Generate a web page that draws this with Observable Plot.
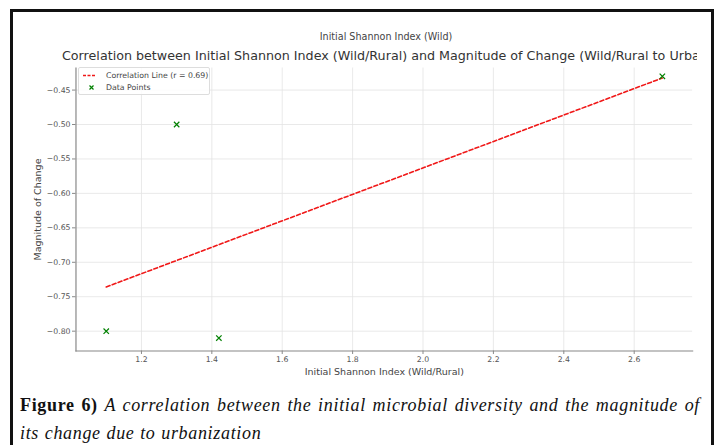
<!DOCTYPE html>
<html>
<head>
<meta charset="utf-8">
<script src="https://cdn.jsdelivr.net/npm/d3@7"></script>
<script src="https://cdn.jsdelivr.net/npm/@observablehq/plot@0.6"></script>
<style>
  html, body { margin: 0; padding: 0; background: #fff; }
  body { width: 716px; height: 445px; position: relative; overflow: hidden; }
  #frame { position: absolute; left: 10px; top: 9px; width: 698px; height: 460px; border: 3px solid #111; border-bottom: none; overflow: hidden; }
  #chart { position: absolute; left: -13px; top: -12px; }
  #chart [aria-label="x-axis label"], #chart [aria-label="y-axis label"] { font-size: 9.6px; fill: #444; }
  #titleclip { position: absolute; left: 0; top: 0; width: 684px; height: 70px; overflow: hidden; }
  .t { position: absolute; white-space: nowrap; font-family: "DejaVu Sans", sans-serif; color: #333; }
  #title { left: 49px; top: 36px; font-size: 12.7px; line-height: 15px; }
  #toplab { left: 0; width: 746px; text-align: center; top: 18.5px; font-size: 9.6px; line-height: 11px; color: #444; }
  #legend { position: absolute; left: 65px; top: 55px; width: 130px; height: 26px; border: 1px solid #ddd; border-radius: 2px; background: rgba(255,255,255,0.85); font-family: "DejaVu Sans", sans-serif; font-size: 7.8px; color: #444; }
  #legend .row { position: absolute; left: 0; white-space: nowrap; }
  #caption { position: absolute; left: 7px; top: 379px; width: 680px; font-family: "Liberation Serif", serif; font-size: 18px; letter-spacing: 0.68px; word-spacing: 0.5px; line-height: 28px; color: #111; text-align: justify; }
</style>
</head>
<body>
<div id="frame">
  <div id="chart"></div>
  <div id="titleclip">
    <div class="t" id="toplab"></div>
    <div class="t" id="title"></div>
  </div>
  <div id="legend"></div>
  <div id="caption"></div>
</div>
<script>
// ---- data ----
const shannonInitial = [1.10, 1.30, 1.42, 2.68];
const magnitudeChange = [-0.80, -0.50, -0.81, -0.43];
const xTicks = [1.2, 1.4, 1.6, 1.8, 2.0, 2.2, 2.4, 2.6];
const yTicks = [-0.80, -0.75, -0.70, -0.65, -0.60, -0.55, -0.50, -0.45];
const titleText = "Correlation between Initial Shannon Index (Wild/Rural) and Magnitude of Change (Wild/Rural to Urban)";
const topLabel = "Initial Shannon Index (Wild)";
const xLabel = "Initial Shannon Index (Wild/Rural)";
const yLabel = "Magnitude of Change";
const legendLine = "Correlation Line (r = 0.69)";
const legendPoints = "Data Points";
const captionBold = "Figure 6)";
const captionText = "A correlation between the initial microbial diversity and the magnitude of its change due to urbanization";
const xDomain = [1.014, 2.766];
const yDomain = [-0.8288, -0.418];

const points = shannonInitial.map((x, i) => ({x, y: magnitudeChange[i]}));

const chart = Plot.plot({
  width: 716,
  height: 385,
  marginLeft: 76,
  marginRight: 19,
  marginTop: 68,
  marginBottom: 32,
  style: { fontFamily: "DejaVu Sans, sans-serif", fontSize: "7.8px", color: "#555", background: "transparent" },
  x: { domain: xDomain },
  y: { domain: yDomain },
  marks: [
    Plot.gridX(xTicks, { stroke: "#e3e3e3", strokeOpacity: 1, strokeWidth: 0.8 }),
    Plot.gridY(yTicks, { stroke: "#e3e3e3", strokeOpacity: 1, strokeWidth: 0.8 }),
    Plot.axisX(xTicks, { tickFormat: d3.format(".1f"), tickSize: 3.5, tickPadding: 2, stroke: "#888", fill: "#555",
      label: xLabel, labelAnchor: "center", labelArrow: "none", labelOffset: 24 }),
    Plot.axisY(yTicks, { tickFormat: d3.format(".2f"), tickSize: 3.5, tickPadding: 2, stroke: "#888", fill: "#555",
      label: yLabel, labelAnchor: "center", labelArrow: "none", labelOffset: 42 }),
    Plot.frame({ anchor: "left", stroke: "#888", strokeWidth: 1.2 }),
    Plot.frame({ anchor: "bottom", stroke: "#888", strokeWidth: 1.2 }),
    Plot.linearRegressionY(points, { x: "x", y: "y", ci: 0, stroke: "#f01818", strokeWidth: 1.6, strokeDasharray: "4,2.4" }),
    Plot.dot(points, { x: "x", y: "y", symbol: "times", stroke: "#008000", r: 2.6, strokeWidth: 1.2 })
  ]
});
document.getElementById("chart").appendChild(chart);

document.getElementById("title").textContent = titleText;
document.getElementById("toplab").textContent = topLabel;

const legend = document.getElementById("legend");
legend.innerHTML =
  `<div class="row" style="top:3px"><svg width="40" height="9" style="vertical-align:middle"><line x1="4" x2="17" y1="4.5" y2="4.5" stroke="#f01818" stroke-width="1.7" stroke-dasharray="3,1.5"/></svg></div>` +
  `<div class="row" style="top:3px;left:27px;line-height:10px">${legendLine}</div>` +
  `<div class="row" style="top:15px"><svg width="40" height="9" style="vertical-align:middle"><path d="M10.5,2.5L14.5,6.5M14.5,2.5L10.5,6.5" stroke="#008000" stroke-width="1.2"/></svg></div>` +
  `<div class="row" style="top:15px;left:27px;line-height:10px">${legendPoints}</div>`;

document.getElementById("caption").innerHTML = `<b>${captionBold}</b> <i>${captionText}</i>`;
</script>
</body>
</html>
